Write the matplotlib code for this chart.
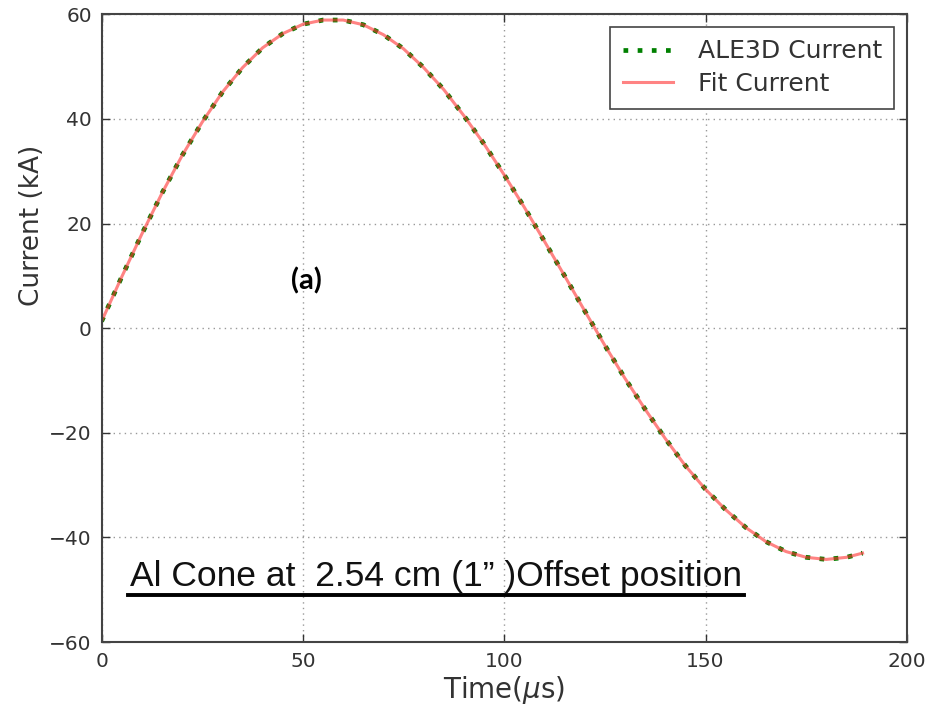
import numpy as np
import matplotlib
matplotlib.use("Agg")
import matplotlib.pyplot as plt
from matplotlib.lines import Line2D

# time axis (microseconds) and current (kA)
time_us = [0, 5, 10, 15, 20, 25, 30, 35, 40, 45, 50, 55, 60, 65, 70, 75, 80, 85, 90,
           95, 100, 105, 110, 115, 120, 125, 130, 135, 140, 145, 150, 155, 160, 165,
           170, 175, 180, 185, 189]
ale3d_current = [1.3, 9.8, 18.0, 25.8, 33.0, 39.4, 45.1, 49.8, 53.6, 56.3, 58.1, 58.9,
                 58.9, 58.0, 56.1, 53.4, 49.8, 45.6, 40.6, 35.2, 29.3, 23.1, 16.6, 10.0,
                 3.3, -3.3, -9.6, -15.5, -21.1, -26.3, -30.8, -34.7, -38.1, -40.8, -42.7,
                 -43.8, -44.2, -43.8, -43.0]
fit_current = [1.3, 9.8, 18.0, 25.8, 33.0, 39.4, 45.1, 49.8, 53.6, 56.3, 58.1, 58.9,
               58.9, 58.0, 56.1, 53.4, 49.8, 45.6, 40.6, 35.2, 29.3, 23.1, 16.6, 10.0,
               3.3, -3.3, -9.6, -15.5, -21.1, -26.3, -30.8, -34.7, -38.1, -40.8, -42.7,
               -43.8, -44.2, -43.8, -43.0]

xticks = [0, 50, 100, 150, 200]
yticks = [-60, -40, -20, 0, 20, 40, 60]

fig = plt.figure(figsize=(9.32, 7.15), dpi=100)
ax = fig.add_axes([0.109, 0.102, 0.864, 0.878])

ax.plot(time_us, ale3d_current, color="green", lw=3.4, linestyle=(0, (1, 2)),
        label="ALE3D Current")
ax.plot(time_us, fit_current, color="#ff3030", lw=2.2, alpha=0.6, label="Fit Current")

ax.set_xlim(0, 200)
ax.set_ylim(-60, 60)
ax.set_xticks(xticks)
ax.set_yticks(yticks)
ax.grid(True, linestyle=(0, (1, 3)), color="#999999", lw=1)
ax.tick_params(direction="in", top=True, right=True, length=6, width=1,
               labelsize=14.5, colors="#333333", pad=7)
for sp in ax.spines.values():
    sp.set_color("#444444")
    sp.set_linewidth(1.5)

ax.set_xlabel(r"Time($\mu$s)", fontsize=20, color="#333333", labelpad=2)
ax.set_ylabel("Current (kA)", fontsize=19, color="#333333")
ax.yaxis.set_label_coords(-0.07, 0.664)

leg = ax.legend(loc="upper right", fontsize=18, handlelength=2.0, borderpad=0.5,
                labelspacing=0.35, handletextpad=1.0, fancybox=False, framealpha=1,
                borderaxespad=0.5)
leg.get_frame().set_edgecolor("#444444")
leg.get_frame().set_linewidth(1.2)
for t in leg.get_texts():
    t.set_color("#333333")

ax.text(51, 9, "(a)", fontsize=21, fontweight="bold", family="Lato",
        ha="center", va="center")

note = ax.text(7, -47.5, "Al Cone at  2.54 cm (1\u201d )Offset position",
               fontsize=25.5, family="Liberation Sans", ha="left", va="center",
               color="#111111")

# underline under the annotation
fig.canvas.draw()
bb = note.get_window_extent().transformed(fig.transFigure.inverted())
fig.add_artist(Line2D([bb.x0 - 0.002, bb.x1 + 0.002], [bb.y0 - 0.003, bb.y0 - 0.003],
                      transform=fig.transFigure, color="black", lw=2.8))

fig.savefig("out.png", dpi=100)
